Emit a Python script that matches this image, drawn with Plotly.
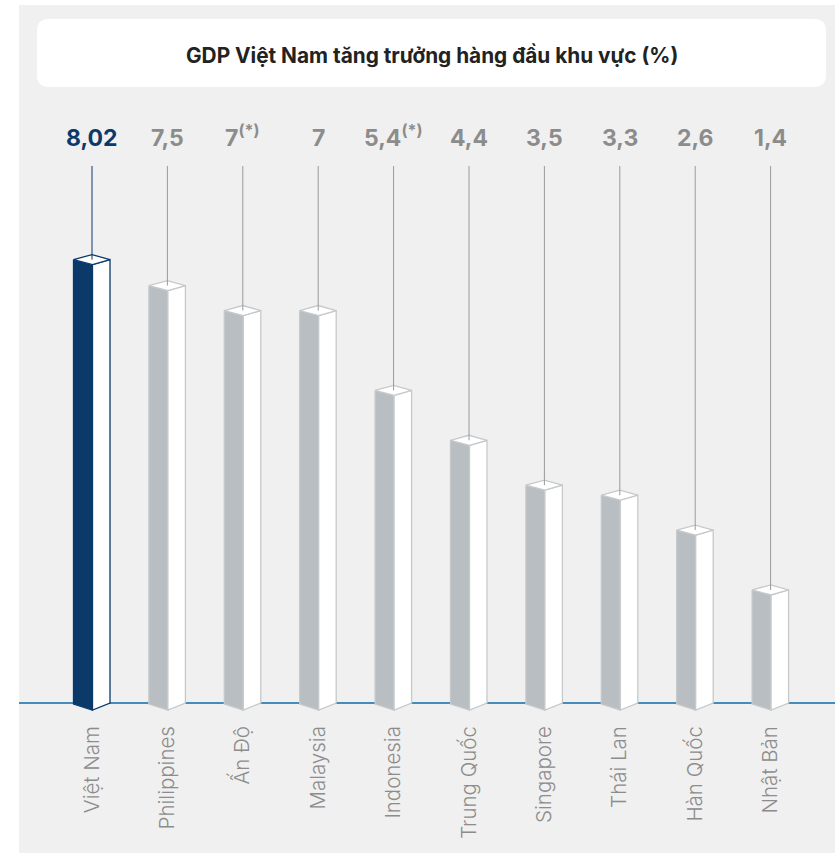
import plotly.graph_objects as go

# ---- data ----
countries = ["Việt Nam", "Philippines", "Ấn Độ", "Malaysia", "Indonesia",
             "Trung Quốc", "Singapore", "Thái Lan", "Hàn Quốc", "Nhật Bản"]
growth = [8.02, 7.5, 7, 7, 5.4, 4.4, 3.5, 3.3, 2.6, 1.4]
value_labels = ["8,02", "7,5", "7<sup>(*)</sup>", "7", "5,4<sup>(*)</sup>",
                "4,4", "3,5", "3,3", "2,6", "1,4"]
title_text = "GDP Việt Nam tăng trưởng hàng đầu khu vực (%)"

# ---- layout geometry (pixels) ----
W, H = 835, 854
PLOT_L, PLOT_R = 19, 835
PLOT_T, PLOT_B = 114, 716
BASE_PX = 703            # pixel row of the baseline
FLOOR = -0.865           # axis value at the baseline
PX_PER_UNIT = 49.9
X_STEP = 75.4            # pixels between categories
X0_PX = 92               # pixel column of first category

ux = 1.0 / X_STEP
uy = 1.0 / PX_PER_UNIT
y_lo = FLOOR - (PLOT_B - BASE_PX) * uy
y_hi = FLOOR + (BASE_PX - PLOT_T) * uy
x_lo = -(X0_PX - PLOT_L) * ux
x_hi = (PLOT_R - X0_PX) * ux


def paper_x(px):
    return (px - PLOT_L) / (PLOT_R - PLOT_L)


def paper_y(py):
    return (PLOT_B - py) / (PLOT_B - PLOT_T)


def y_at(py):
    return FLOOR + (BASE_PX - py) * uy


NAVY = "#0b3a6a"
GRAY_FACE = "#b8bec1"
GRAY_EDGE = "#c6c9cb"
LABEL_GRAY = "#8c8c8c"
BG = "#f0f0f0"
BASELINE = "#0f6aa8"

fig = go.Figure()

# 3D-style columns: front face, side face, top face
for i, v in enumerate(growth):
    hl = i == 0
    face = NAVY if hl else GRAY_FACE
    edge = NAVY if hl else GRAY_EDGE
    L, M, R, C = i - 18.5 * ux, i + 0.5 * ux, i + 18 * ux, i
    front_x = [L, M, M, L, L]
    front_y = [v, v - 5 * uy, FLOOR - 7 * uy, FLOOR - 1 * uy, v]
    side_x = [M, R, R, M, M]
    side_y = [v - 5 * uy, v, FLOOR, FLOOR - 7 * uy, v - 5 * uy]
    top_x = [L, C, R, M, L]
    top_y = [v, v + 5 * uy, v, v - 5 * uy, v]
    for xs, ys, fc in ((front_x, front_y, face), (side_x, side_y, "#ffffff"),
                       (top_x, top_y, "#ffffff")):
        fig.add_trace(go.Scatter(
            x=xs, y=ys, mode="lines", fill="toself", fillcolor=fc,
            line=dict(color=edge, width=1.3), hoverinfo="skip", showlegend=False))

# leader lines from the value labels down to each column top
line_top = y_at(166)
for i, v in enumerate(growth):
    fig.add_trace(go.Scatter(
        x=[i, i], y=[line_top, v], mode="lines",
        line=dict(color=NAVY if i == 0 else "#9a9a9a", width=1),
        hoverinfo="skip", showlegend=False))

annotations = []
for i, lab in enumerate(value_labels):
    annotations.append(dict(
        x=i, xref="x", y=paper_y(154), yref="paper", yanchor="bottom",
        text=f"<b>{lab}</b>", showarrow=False,
        font=dict(family="Inter, sans-serif", size=23,
                  color=NAVY if i == 0 else LABEL_GRAY)))

annotations.append(dict(
    x=paper_x(431.5), xref="paper", y=paper_y(55), yref="paper",
    xanchor="center", yanchor="middle", showarrow=False,
    text=f"<b>{title_text}</b>",
    font=dict(family="Inter, sans-serif", size=20.8, color="#222222")))

# title card with rounded corners
x0, x1 = paper_x(37), paper_x(826)
y0, y1 = paper_y(87), paper_y(19)
rx = 12 / (PLOT_R - PLOT_L)
ry = 12 / (PLOT_B - PLOT_T)
card = (f"M {x0+rx},{y0} L {x1-rx},{y0} Q {x1},{y0} {x1},{y0+ry} "
        f"L {x1},{y1-ry} Q {x1},{y1} {x1-rx},{y1} L {x0+rx},{y1} "
        f"Q {x0},{y1} {x0},{y1-ry} L {x0},{y0+ry} Q {x0},{y0} {x0+rx},{y0} Z")

shapes = [
    dict(type="rect", xref="paper", yref="paper", x0=0, x1=1,
         y0=paper_y(853), y1=paper_y(5), fillcolor=BG, line=dict(width=0),
         layer="below"),
    dict(type="path", xref="paper", yref="paper", path=card,
         fillcolor="#ffffff", line=dict(width=0), layer="below"),
    dict(type="line", xref="paper", yref="y", x0=0, x1=1, y0=FLOOR, y1=FLOOR,
         line=dict(color=BASELINE, width=1.5), layer="below"),
]

fig.update_layout(
    width=W, height=H,
    margin=dict(l=PLOT_L, r=W - PLOT_R, t=PLOT_T, b=H - PLOT_B, pad=0),
    paper_bgcolor="#ffffff", plot_bgcolor="rgba(0,0,0,0)",
    showlegend=False, annotations=annotations, shapes=shapes,
    xaxis=dict(range=[x_lo, x_hi], tickmode="array",
               tickvals=list(range(len(countries))), ticktext=countries,
               tickangle=-90, showgrid=False, zeroline=False, showline=False,
               ticks="", ticklabelstandoff=5, fixedrange=True,
               tickfont=dict(family="Inter, sans-serif", size=20.5,
                             color=LABEL_GRAY, weight=300)),
    yaxis=dict(range=[y_lo, y_hi], visible=False, fixedrange=True),
)

fig.write_html("out.html")
